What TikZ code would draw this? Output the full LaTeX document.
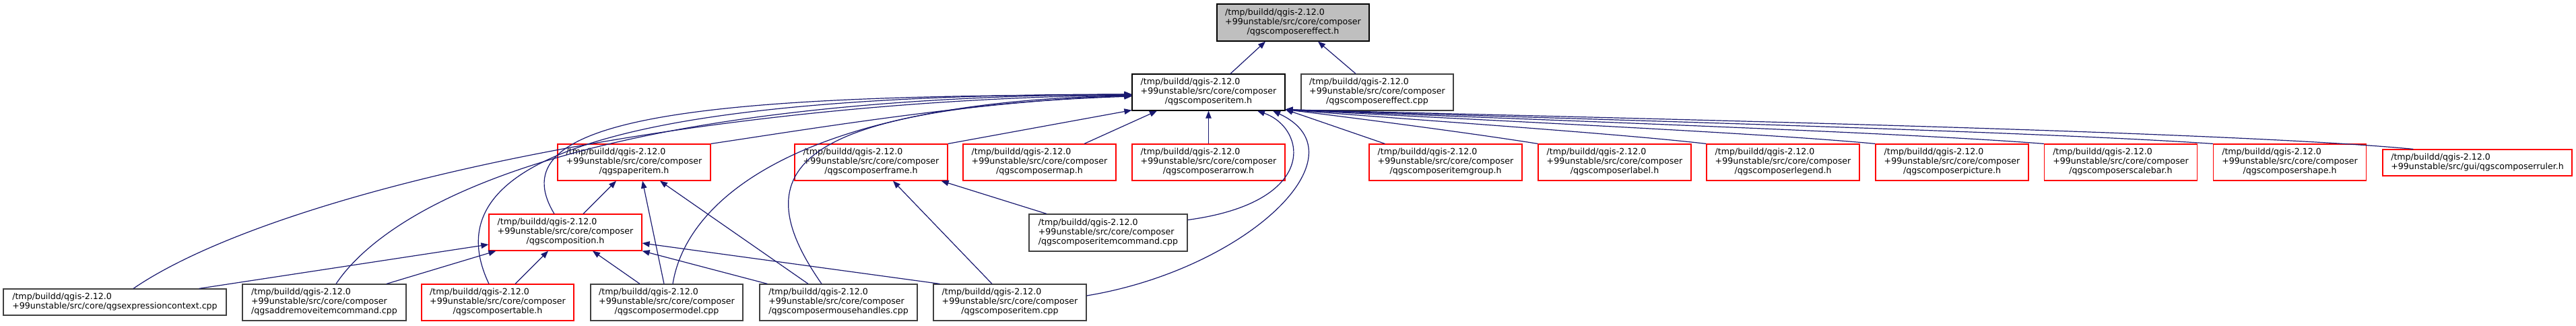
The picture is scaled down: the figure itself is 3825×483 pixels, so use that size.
\documentclass[tikz,border=0pt]{standalone}
\usepackage{fontspec}
\setmainfont{DejaVu Sans}
\usetikzlibrary{arrows.meta}
\definecolor{edgeblue}{HTML}{191970}
\definecolor{boxgray}{HTML}{BFBFBF}
\definecolor{boxline}{HTML}{404040}
\newcommand{\qthree}[1]{\begin{tabular}{@{}l@{}}/tmp/buildd/qgis-2.12.0\\+99unstable/src/core/composer\\\multicolumn{1}{@{}c@{}}{#1}\end{tabular}}
\newcommand{\qtwo}[1]{\begin{tabular}{@{}l@{}}/tmp/buildd/qgis-2.12.0\\#1\end{tabular}}
\tikzset{
  box/.style={draw=boxline, line width=1.2pt, inner sep=0pt, minimum height=54pt, minimum width=227pt,
    font=\fontsize{12.6}{14}\selectfont},
  redbox/.style={box, draw=red},
  topbox/.style={box, draw=black, fill=boxgray},
  edge/.style={draw=edgeblue, line width=1.2pt, -{Triangle[length=11pt,width=8.5pt]}},
}
\begin{document}
\begin{tikzpicture}[x=1pt,y=-1pt]
\fill[white] (0,0) rectangle (3825,483);
\useasboundingbox (0,0) rectangle (3825,483);
% row 1
\node[topbox, minimum width=226pt, minimum height=55pt] (A) at (1920,33.5) {\qthree{/qgscomposereffect.h}};
% row 2
\node[box, draw=black] (B) at (1794.5,137) {\qthree{/qgscomposeritem.h}};
\node[box, minimum width=226pt] (C) at (2045,137) {\qthree{/qgscomposereffect.cpp}};
% row 3
\node[redbox] (paperitem) at (941.5,241) {\qthree{/qgspaperitem.h}};
\node[redbox] (frame) at (1293.5,241) {\qthree{/qgscomposerframe.h}};
\node[redbox] (map) at (1543.5,241) {\qthree{/qgscomposermap.h}};
\node[redbox] (arrow) at (1794.5,241) {\qthree{/qgscomposerarrow.h}};
\node[redbox] (itemgroup) at (2146.5,241) {\qthree{/qgscomposeritemgroup.h}};
\node[redbox] (label) at (2397.5,241) {\qthree{/qgscomposerlabel.h}};
\node[redbox] (legend) at (2647.5,241) {\qthree{/qgscomposerlegend.h}};
\node[redbox] (picture) at (2898.5,241) {\qthree{/qgscomposerpicture.h}};
\node[redbox] (scalebar) at (3149,241) {\qthree{/qgscomposerscalebar.h}};
\node[redbox] (shape) at (3400,241) {\qthree{/qgscomposershape.h}};
\node[redbox, minimum width=281pt, minimum height=39pt] (ruler) at (3678.5,241.5) {\qtwo{+99unstable/src/gui/qgscomposerruler.h}};
% row 4
\node[redbox] (composition) at (839.5,345) {\qthree{/qgscomposition.h}};
\node[box, minimum width=235pt, minimum height=55pt] (itemcmd) at (1645.5,345.5) {\qthree{/qgscomposeritemcommand.cpp}};
% row 5
\node[box, minimum width=331pt, minimum height=39pt] (exp) at (170.5,448.5) {\qtwo{+99unstable/src/core/qgsexpressioncontext.cpp}};
\node[box, minimum width=243pt] (addremove) at (481.5,449) {\qthree{/qgsaddremoveitemcommand.cpp}};
\node[redbox, minimum width=226pt] (table) at (739,449) {\qthree{/qgscomposertable.h}};
\node[box, minimum width=226pt] (model) at (990,449) {\qthree{/qgscomposermodel.cpp}};
\node[box, minimum width=234pt] (mouse) at (1245,449) {\qthree{/qgscomposermousehandles.cpp}};
\node[box] (citemcpp) at (1499.5,449) {\qthree{/qgscomposeritem.cpp}};
% edges to A
\draw[edge] ([xshift=32.5pt]B.north) -- ([xshift=-41pt]A.south);
\draw[edge] ([xshift=-32pt]C.north) -- ([xshift=37pt]A.south);
% edges to B
\draw[edge] (arrow.north) -- (B.south);
\draw[edge] ([xshift=66.5pt]map.north) -- ([xshift=-76.5pt]B.south);
\draw[edge] (frame.north east) -- ([yshift=1pt]B.south west);
\draw[edge] (paperitem.north east) .. controls (1200,192) and (1450,150) .. ([yshift=-5pt]B.west);
\draw[edge] ([xshift=27.5pt]exp.north) .. controls (400,290) and (1000,150) .. ([yshift=-4pt]B.west);
\draw[edge] ([xshift=17.5pt]addremove.north) .. controls (560,330) and (800,145) .. ([yshift=-3pt]B.west);
\draw[edge] ([xshift=-13pt]table.north) .. controls (640,240) and (900,140) .. ([yshift=-3pt]B.west);
\draw[edge] ([xshift=-16.5pt]composition.north) .. controls (740,180) and (1000,140) .. ([yshift=-4pt]B.west);
\draw[edge] ([xshift=9pt]model.north) .. controls (1020,290) and (1200,150) .. ([yshift=-5pt]B.west);
\draw[edge] ([xshift=-25pt]mouse.north) .. controls (1100,250) and (1180,160) .. ([yshift=-6pt]B.west);
\draw[edge] ([yshift=19pt]itemcmd.east) .. controls (1960,300) and (1940,190) .. ([xshift=72.5pt]B.south);
\draw[edge] ([yshift=10pt]citemcpp.east) .. controls (1850,400) and (2030,230) .. ([xshift=95.5pt]B.south);
\draw[edge] ([xshift=24pt]itemgroup.north west) -- ([yshift=2pt]B.south east);
\draw[edge] (label.north west) .. controls (2200,200) and (2050,180) .. ([yshift=2pt]B.south east);
\draw[edge] (legend.north west) .. controls (2400,198) and (2100,178) .. ([yshift=2pt]B.south east);
\draw[edge] (picture.north west) .. controls (2600,196) and (2150,176) .. ([yshift=2pt]B.south east);
\draw[edge] (scalebar.north west) .. controls (2800,195) and (2200,175) .. ([yshift=2pt]B.south east);
\draw[edge] (shape.north west) .. controls (3000,194) and (2250,174) .. ([yshift=2pt]B.south east);
\draw[edge] ([xshift=46pt]ruler.north west) .. controls (3300,194) and (2300,173) .. ([yshift=2pt]B.south east);
% edges to frame
\draw[edge] ([xshift=-26.5pt]citemcpp.north) -- ([xshift=32.5pt]frame.south);
\draw[edge] ([xshift=-91.5pt]itemcmd.north) -- ([xshift=-10pt]frame.south east);
% edges to paperitem
\draw[edge] ([xshift=26.5pt]composition.north) -- ([xshift=-26.5pt]paperitem.south);
\draw[edge] ([xshift=-4pt]model.north) -- ([xshift=12.5pt]paperitem.south);
\draw[edge] ([xshift=-45pt]mouse.north) -- ([xshift=38.5pt]paperitem.south);
% edges to composition
\draw[edge] ([xshift=-41pt]exp.north east) -- ([yshift=-18pt]composition.west);
\draw[edge] ([xshift=92.5pt]addremove.north) -- ([xshift=11pt]composition.south west);
\draw[edge] ([xshift=26pt]table.north) -- ([xshift=-25.5pt]composition.south);
\draw[edge] ([xshift=-40pt]model.north) -- ([xshift=40.5pt]composition.south);
\draw[edge] ([xshift=12pt]mouse.north west) -- (composition.south east);
\draw[edge] ([xshift=10pt]citemcpp.north west) -- ([yshift=-16pt]composition.east);
\end{tikzpicture}
\end{document}
